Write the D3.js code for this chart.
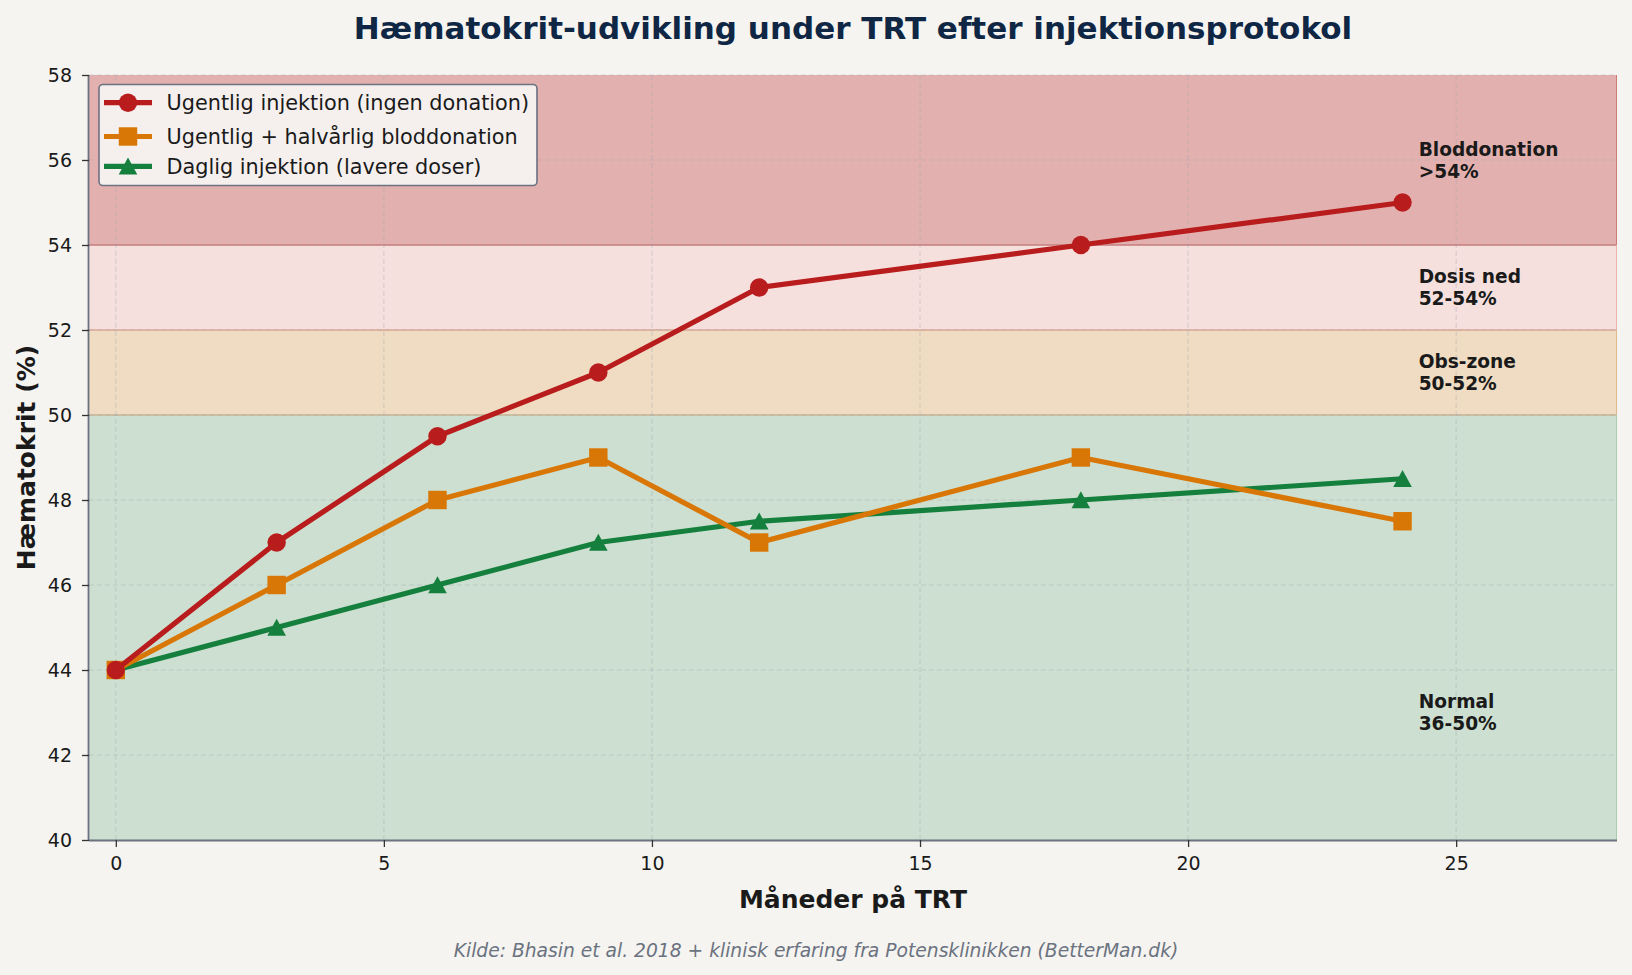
<!DOCTYPE html>
<html><head><meta charset="utf-8">
<script src="https://cdn.jsdelivr.net/npm/d3@7"></script>
<style>
body{margin:0;background:#f5f4f0;}
svg{display:block;font-family:"DejaVu Sans",sans-serif;}
</style></head><body>
<svg id="c" width="1632" height="975"></svg>
<script>
const months = [0, 3, 6, 9, 12, 18, 24];
const weekly = [44, 47, 49.5, 51, 53, 54, 55];
const weeklyDonation = [44, 46, 48, 49, 47, 49, 47.5];
const daily = [44, 45, 46, 47, 47.5, 48, 48.5];
const seriesNames = ["Ugentlig injektion (ingen donation)", "Ugentlig + halvårlig bloddonation", "Daglig injektion (lavere doser)"];
const zoneBounds = [[40, 50], [50, 52], [52, 54], [54, 58]];
const zoneLabels = [["Normal", "36-50%"], ["Obs-zone", "50-52%"], ["Dosis ned", "52-54%"], ["Bloddonation", ">54%"]];
const zoneLabelY = [43, 51, 53, 56];
const xTicks = [0, 5, 10, 15, 20, 25];
const yTicks = [40, 42, 44, 46, 48, 50, 52, 54, 56, 58];

const svg = d3.select("#c");
const L = 89, R = 1617, T = 75, B = 840;
const x = d3.scaleLinear().domain([-0.5, 28]).range([L, R]);
const y = d3.scaleLinear().domain([40, 58]).range([B, T]);

const zoneFill = ["#cddfd1", "#efdcc2", "#f5e0de", "#e2b1af"];
const zoneEdge = ["#a8cdb2", "#e0b98a", "#eab3ae", "#d07a76"];

// zones
zoneBounds.forEach((z, i) => {
  svg.append("rect").attr("x", x(-0.5)).attr("width", x(28) - x(-0.5))
    .attr("y", y(z[1])).attr("height", y(z[0]) - y(z[1]))
    .attr("fill", zoneFill[i]);
});
[[50, "#c9b592"], [52, "#dba995"], [54, "#cc7b78"]].forEach(d => {
  svg.append("line").attr("x1", L).attr("x2", R).attr("y1", y(d[0])).attr("y2", y(d[0]))
    .attr("stroke", d[1]).attr("stroke-width", 1.3);
});
zoneBounds.forEach((z, i) => {
  svg.append("line").attr("x1", R - 0.5).attr("x2", R - 0.5).attr("y1", y(z[1])).attr("y2", y(z[0]))
    .attr("stroke", zoneEdge[i]).attr("stroke-width", 1);
});

// grid
const grid = svg.append("g");
xTicks.forEach(t => grid.append("line").attr("x1", x(t)).attr("x2", x(t)).attr("y1", T).attr("y2", B)
  .attr("stroke", "#9ca3af").attr("stroke-opacity", 0.35).attr("stroke-dasharray", "5,3").attr("stroke-width", 1.1));
yTicks.forEach(t => grid.append("line").attr("x1", L).attr("x2", R).attr("y1", y(t)).attr("y2", y(t))
  .attr("stroke", "#9ca3af").attr("stroke-opacity", 0.35).attr("stroke-dasharray", "5,3").attr("stroke-width", 1.1));

// axes
const xAxis = svg.append("g").attr("transform", `translate(0,${B})`)
  .call(d3.axisBottom(x).tickValues(xTicks).tickSize(7).tickPadding(10).tickFormat(d3.format("d")));
const yAxis = svg.append("g").attr("transform", `translate(${L},0)`)
  .call(d3.axisLeft(y).tickValues(yTicks).tickSize(7).tickPadding(10).tickFormat(d3.format("d")));
[xAxis, yAxis].forEach(a => {
  a.select(".domain").attr("stroke", "#6b7280").attr("stroke-width", 1.8);
  a.selectAll(".tick line").attr("stroke", "#333").attr("stroke-width", 1.3);
  a.selectAll(".tick text").attr("fill", "#1a1a1a").style("font-size", "19px").style("font-family", "DejaVu Sans");
});
xAxis.select(".domain").attr("d", `M${L},0.5H${R}`);
yAxis.select(".domain").attr("d", `M-0.5,${T}V${B}`);

// zone labels
const zfs = 18.6;
zoneLabels.forEach((lab, i) => {
  const cy = y(zoneLabelY[i]);
  [0, 1].forEach(j => {
    svg.append("text").attr("x", x(24.3)).attr("y", cy + (j === 0 ? -11 : 11) + 0.36 * zfs)
      .attr("fill", "#1a1a1a").style("font-size", zfs + "px").style("font-weight", "bold").text(lab[j]);
  });
});

// series
const colors = ["#b91c1c", "#d97706", "#15803d"];
const datasets = [weekly, weeklyDonation, daily];
const tri = "M0,-8.8L9.3,8.2L-9.3,8.2Z";
const markerPath = [d3.symbol().type(d3.symbolCircle).size(266)(), d3.symbol().type(d3.symbolSquare).size(340)(), tri];
const line = d3.line().x((d, i) => x(months[i])).y(d => y(d));
[2, 1, 0].forEach(k => {
  svg.append("path").datum(datasets[k]).attr("d", line).attr("fill", "none")
    .attr("stroke", colors[k]).attr("stroke-width", 5.2).attr("stroke-linejoin", "round").attr("stroke-linecap", "round");
  svg.selectAll(null).data(datasets[k]).enter().append("path")
    .attr("transform", (d, i) => `translate(${x(months[i])},${y(d)})`)
    .attr("d", markerPath[k]).attr("fill", colors[k]);
});

// legend
const lg = svg.append("g");
lg.append("rect").attr("x", 99).attr("y", 84.5).attr("width", 438).attr("height", 101).attr("rx", 4)
  .attr("fill", "#f5f3f1").attr("fill-opacity", 0.95).attr("stroke", "#6b7280").attr("stroke-width", 1.6);
const rowY = [102.7, 136.5, 166.3];
seriesNames.forEach((n, k) => {
  const cy = rowY[k];
  lg.append("line").attr("x1", 104).attr("x2", 152).attr("y1", cy).attr("y2", cy)
    .attr("stroke", colors[k]).attr("stroke-width", 5.2);
  lg.append("path").attr("transform", `translate(128,${cy})`)
    .attr("d", markerPath[k]).attr("fill", colors[k]);
  lg.append("text").attr("x", 166.5).attr("y", cy).attr("dy", "0.35em").attr("fill", "#1a1a1a")
    .style("font-size", "20.8px").text(n);
});

// titles
svg.append("text").attr("x", (L + R) / 2).attr("y", 39).attr("text-anchor", "middle")
  .attr("fill", "#0f2744").style("font-size", "31px").style("font-weight", "bold")
  .text("Hæmatokrit-udvikling under TRT efter injektionsprotokol");
svg.append("text").attr("x", (L + R) / 2).attr("y", 908).attr("text-anchor", "middle")
  .attr("fill", "#1a1a1a").style("font-size", "25px").style("font-weight", "bold").text("Måneder på TRT");
svg.append("text").attr("transform", `translate(35,${(T + B) / 2}) rotate(-90)`).attr("text-anchor", "middle")
  .attr("fill", "#1a1a1a").style("font-size", "25px").style("font-weight", "bold").text("Hæmatokrit (%)");
svg.append("text").attr("x", 816).attr("y", 957).attr("text-anchor", "middle")
  .attr("fill", "#6b7280").style("font-size", "18.7px").style("font-style", "italic")
  .text("Kilde: Bhasin et al. 2018 + klinisk erfaring fra Potensklinikken (BetterMan.dk)");
</script>
</body></html>
